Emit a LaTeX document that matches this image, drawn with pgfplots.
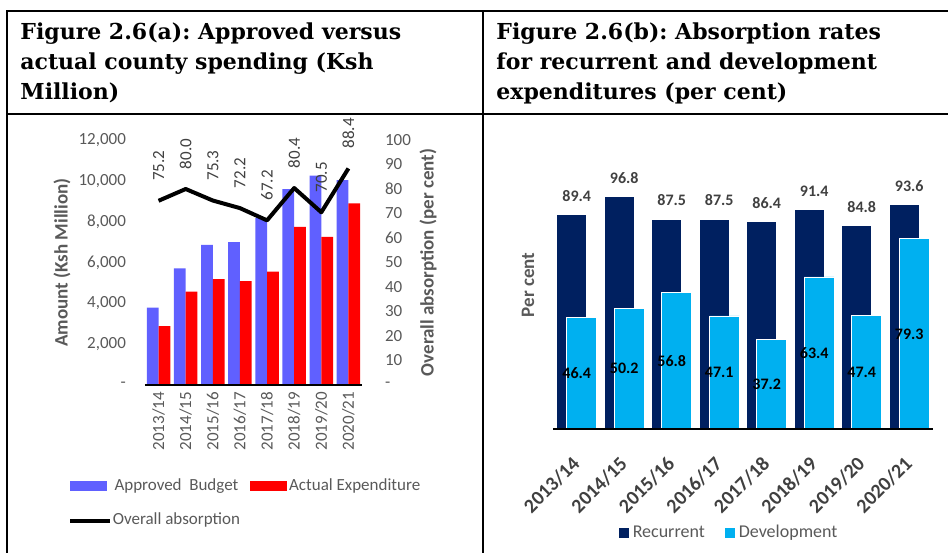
\documentclass[border=0pt]{standalone}
\usepackage{pgfplots}
\pgfplotsset{compat=1.18}
\usepackage{fontspec}
\setmainfont{Carlito}
\newfontfamily\headfont{DejaVu Serif}
\frenchspacing
\definecolor{approved}{RGB}{96,96,255}
\definecolor{actual}{RGB}{255,0,0}
\definecolor{recur}{RGB}{0,32,96}
\definecolor{devel}{RGB}{0,176,240}
\definecolor{txtgray}{RGB}{89,89,89}
\definecolor{lblgray}{RGB}{64,64,64}
\pgfplotsset{
  /pgf/number format/assume math mode=true,
  widebox/.style={legend image code/.code={\path (0pt,-2.5pt) rectangle (17.5pt,2.5pt);
      \fill[##1,draw=none,overlay] (0pt,-2.5pt) rectangle (18.5pt,2.5pt);}},
  smallbox/.style={legend image code/.code={\fill[##1,draw=none] (0pt,-2.5pt) rectangle (5pt,2.5pt);}},
  thickline/.style={legend image code/.code={\path (0pt,0pt) -- (18.2pt,0pt);
      \draw[##1,overlay] (0pt,0pt) -- (20pt,0pt);}},
}
\begin{document}
\begin{tikzpicture}
\path[use as bounding box] (0,0) rectangle (474pt,-276.5pt);
% table frame
\begin{scope}[x=0.5pt,y=-0.5pt,line width=1.1pt]
\draw (948,11) -- (7,11) -- (7,553);
\draw (7,114) -- (948,114);
\draw (483,11) -- (483,553);
\end{scope}
\node[anchor=north west, align=left, inner sep=0pt,
      font=\headfont\bfseries\fontsize{11}{15}\selectfont] at (10pt,-11pt)
  {Figure 2.6(a): Approved versus\\actual county spending (Ksh\\Million)};
\node[anchor=north west, align=left, inner sep=0pt,
      font=\headfont\bfseries\fontsize{11}{15}\selectfont] at (248pt,-11pt)
  {Figure 2.6(b): Absorption rates\\for recurrent and development\\expenditures (per cent)};

% ---- (a) bars, left axis
\begin{axis}[
  at={(72.5pt,-192.5pt)}, anchor=south west,
  scale only axis, width=108.5pt, height=122.5pt,
  xmin=-0.5, xmax=7.5, ymin=0, ymax=12000,
  ybar=0pt, bar width=5.85pt,
  axis on top,
  axis x line*=bottom, axis y line*=left,
  x axis line style={line width=1.4pt,-},
  y axis line style={draw=none},
  major tick length=0pt,
  scaled y ticks=false,
  xtick={0,...,7},
  xticklabels={2013/14,2014/15,2015/16,2016/17,2017/18,2018/19,2019/20,2020/21},
  xticklabel style={rotate=90, anchor=east, text=txtgray},
  ytick={0,2000,...,12000},
  yticklabels={-,{2,000},{4,000},{6,000},{8,000},{10,000},{12,000}},
  yticklabel style={text=txtgray, xshift=-6pt},
  tick label style={font=\fontsize{8.5}{10}\selectfont},
  ylabel={Amount (Ksh Million)},
  ylabel style={at={(axis description cs:-0.382,0.5)}, anchor=center,
                font=\bfseries\fontsize{9.5}{11}\selectfont, text=txtgray},
  legend columns=2,
  legend style={at={(axis description cs:-0.355,-0.363)}, anchor=north west,
                draw=none, fill=none, inner sep=0pt,
                font=\fontsize{8.5}{10}\selectfont, text=txtgray,
                /tikz/every even column/.style={column sep=3pt},
                row sep=6pt},
]
\addplot[fill=approved, draw=none, area legend, widebox]
  coordinates {(0,3790) (1,5710) (2,6860) (3,7000) (4,8170) (5,9590) (6,10250) (7,10040)};
\addlegendentry{Approved\ \ Budget}
\addplot[fill=actual, draw=none, area legend, widebox]
  coordinates {(0,2890) (1,4570) (2,5190) (3,5090) (4,5550) (5,7750) (6,7260) (7,8900)};
\addlegendentry{Actual Expenditure}
\addlegendimage{black, line width=2pt, thickline}
\addlegendentry{Overall absorption}
\end{axis}

% ---- (a) line, right axis
\begin{axis}[
  at={(72.5pt,-192.5pt)}, anchor=south west,
  scale only axis, width=108.5pt, height=122.5pt,
  xmin=-0.5, xmax=7.5, ymin=0, ymax=100,
  axis x line=none, axis y line*=right,
  y axis line style={draw=none},
  major tick length=0pt,
  ytick={0,10,...,100},
  yticklabels={-,10,20,30,40,50,60,70,80,90,100},
  yticklabel style={text=txtgray, xshift=8pt, font=\fontsize{8.5}{10}\selectfont},
  ylabel={Overall absorption (per cent)},
  ylabel style={at={(axis description cs:1.304,0.5)}, anchor=center,
                font=\bfseries\fontsize{9.5}{11}\selectfont, text=txtgray},
]
\addplot[black, line width=2pt, line join=round, mark=none,
  nodes near coords={\pgfmathprintnumber[fixed,precision=1,zerofill]{\pgfplotspointmeta}},
  every node near coord/.append style={rotate=90, anchor=west, inner xsep=9pt,
      font=\fontsize{8.5}{10}\selectfont, text=lblgray}]
  coordinates {(0,75.2) (1,80.0) (2,75.3) (3,72.2) (4,67.2) (5,80.4) (6,70.5) (7,88.4)};
\end{axis}

% ---- (b)
\begin{axis}[
  at={(276.5pt,-214.5pt)}, anchor=south west,
  scale only axis, width=190pt, height=120pt,
  xmin=-0.5, xmax=7.5, ymin=0, ymax=100,
  axis on top,
  axis x line*=bottom, axis y line*=left,
  x axis line style={line width=1pt,-},
  y axis line style={draw=none},
  major tick length=0pt,
  ytick=\empty,
  xtick={0,...,7},
  xticklabels={2013/14,2014/15,2015/16,2016/17,2017/18,2018/19,2019/20,2020/21},
  xticklabel style={yshift=-8pt, xshift=-3pt, rotate=45, anchor=north east, text=lblgray,
                    font=\bfseries\fontsize{10}{11}\selectfont},
  ylabel={Per cent},
  ylabel style={at={(axis description cs:-0.066,0.6)}, anchor=center,
                font=\bfseries\fontsize{9.5}{11}\selectfont, text=txtgray},
  legend columns=2,
  legend style={at={(axis description cs:0.466,-0.433)}, anchor=center,
                draw=none, fill=none, inner sep=0pt,
                font=\fontsize{9}{10}\selectfont, text=txtgray,
                /tikz/every even column/.style={column sep=8pt}},
]
\addplot[ybar, bar width=15pt, bar shift=-2.5pt, fill=recur, draw=white, line width=0.3pt,
  area legend, smallbox,
  nodes near coords={\pgfmathprintnumber[fixed,precision=1,zerofill]{\pgfplotspointmeta}},
  every node near coord/.append style={font=\bfseries\fontsize{8}{9}\selectfont,
      text=lblgray, yshift=3pt}]
  coordinates {(0,89.4) (1,96.8) (2,87.5) (3,87.5) (4,86.4) (5,91.4) (6,84.8) (7,93.6)};
\addlegendentry{Recurrent}
\addplot[ybar, bar width=15pt, bar shift=2.5pt, fill=devel, draw=white, line width=0.3pt,
  area legend, smallbox,
  visualization depends on={y \as \rawy},
  nodes near coords={\pgfmathprintnumber[fixed,precision=1,zerofill]{\pgfplotspointmeta}},
  every node near coord/.append style={font=\bfseries\fontsize{8}{9}\selectfont,
      text=black, anchor=center, yshift={-0.6pt*\rawy}}]
  coordinates {(0,46.4) (1,50.2) (2,56.8) (3,47.1) (4,37.2) (5,63.4) (6,47.4) (7,79.3)};
\addlegendentry{Development}
\end{axis}
\end{tikzpicture}
\end{document}
